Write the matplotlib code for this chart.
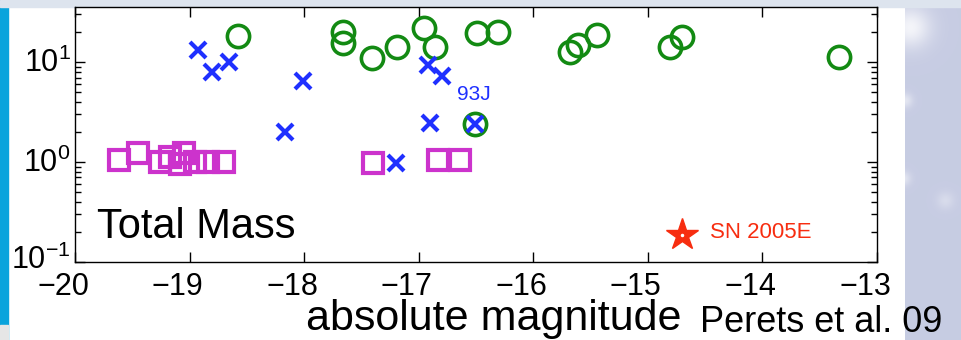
import numpy as np
import matplotlib.pyplot as plt
import matplotlib.transforms as mtransforms
from matplotlib.patches import Rectangle

plt.rcParams['font.family'] = ['Liberation Sans', 'DejaVu Sans']
plt.rcParams['mathtext.fontset'] = 'custom'
plt.rcParams['mathtext.rm'] = 'Liberation Sans'
plt.rcParams['mathtext.it'] = 'Liberation Sans:italic'

# circles (green)
circ_mag = [-18.58, -17.66, -17.66, -17.41, -17.19, -16.95, -16.86, -16.49, -16.31,
            -15.68, -15.61, -15.44, -14.81, -14.70, -13.33, -16.51]
circ_mass = [18.3, 20.1, 15.5, 11.0, 14.2, 22.0, 14.2, 19.6, 20.1,
             12.6, 14.8, 18.7, 14.2, 17.9, 11.2, 2.42]

# crosses (blue)
x_mag = [-18.93, -18.80, -18.66, -18.01, -18.17, -16.92, -16.80, -16.90, -16.51, -17.20]
x_mass = [13.2, 7.9, 10.0, 6.4, 2.0, 9.3, 7.2, 2.48, 2.42, 0.98]

# squares (magenta)
sq_mag = [-19.62, -19.45, -19.26, -19.17, -19.08, -19.05, -18.95, -18.84, -18.70,
          -17.40, -16.83, -16.64]
sq_mass = [1.05, 1.22, 1.0, 1.12, 0.95, 1.22, 1.0, 1.0, 1.0,
           0.98, 1.04, 1.04]

# SN 2005E
star_mag = [-14.70]
star_mass = [0.187]

xticks = [-20, -19, -18, -17, -16, -15, -14, -13]
yticks = [0.1, 1, 10]

fig = plt.figure(figsize=(9.61, 3.40), dpi=100)
fig.patch.set_facecolor('white')

# slide decorations
fig.patches.append(Rectangle((0, 0), 8 / 961, 1, transform=fig.transFigure,
                             color='#0aa4dc', zorder=0))
fig.patches.append(Rectangle((0, 0), 8 / 961, 15 / 340, transform=fig.transFigure,
                             color='#e6e6e6', zorder=0))
fig.patches.append(Rectangle((0, 1 - 7 / 340), 1, 7 / 340, transform=fig.transFigure,
                             color='#dde4ee', zorder=0))

# starry background strip on the right
bg = fig.add_axes([905 / 961, 0, 56 / 961, 1], zorder=0)
yy, xx = np.mgrid[0:340, 0:56]
img = np.zeros((340, 56, 3))
img[..., 0] = 0.78
img[..., 1] = 0.80
img[..., 2] = 0.89
stars = [(27, 5, 14, 0.8), (100, 0, 5, 0.5), (178, -2, 5, 0.5), (200, 40, 6, 0.3)]
for cy, cx, r, a in stars:
    g = a * np.exp(-((yy - cy) ** 2 + (xx - cx) ** 2) / (2 * r ** 2))
    for c in range(3):
        img[..., c] = img[..., c] + (1 - img[..., c]) * g
bg.imshow(img, aspect='auto', interpolation='bilinear')
bg.axis('off')

ax = fig.add_axes([75 / 961, 1 - 262 / 340, 802 / 961, 255 / 340], zorder=1)
ax.set_facecolor('white')

ax.plot(circ_mag, circ_mass, 'o', ls='none', mfc='none', mec='#138a13',
        ms=16, mew=2.6)
ax.plot(x_mag, x_mass, 'x', ls='none', color='#1f30ff', ms=11, mew=3)
ax.plot(sq_mag, sq_mass, 's', ls='none', mfc='none', mec='#cc33cc',
        ms=14, mew=3)
ax.plot(star_mag, star_mass, '*', ls='none', color='#f72d10', ms=24)
ax.plot(star_mag, star_mass, '.', ls='none', color='white', ms=3)

ax.set_yscale('log')
ax.set_xlim(-20, -13)
ax.set_ylim(0.1, 35.5)
ax.set_xticks(xticks)
ax.set_xticklabels(['\u2212%d' % abs(t) for t in xticks])
ax.set_yticks(yticks)
ax.tick_params(which='both', direction='in', top=True, right=True,
               labelsize=22, width=1)
ax.tick_params(axis='x', pad=7)
ax.tick_params(axis='y', pad=3)
ax.tick_params(which='major', length=7)
ax.tick_params(which='minor', length=4)
for s in ax.spines.values():
    s.set_linewidth(1)

# shift x tick labels slightly to the left, y labels up a touch
offset = mtransforms.ScaledTranslation(-12 / 100, 0, fig.dpi_scale_trans)
for lab in ax.get_xticklabels():
    lab.set_transform(lab.get_transform() + offset)
ylabs = ax.get_yticklabels()
for i, lab in enumerate(ylabs):
    dy = 5 if i == 0 else 2
    lab.set_transform(lab.get_transform() +
                      mtransforms.ScaledTranslation(0, dy / 100, fig.dpi_scale_trans))

ax.text(-19.81, 0.1 * 10 ** (24 / 99), 'Total Mass', fontsize=30, va='baseline')
ax.text(-16.67, 10 ** (61 / 99), '93J', fontsize=15, color='#1f30ff', va='baseline')
ax.text(-14.46, 0.1 * 10 ** (24 / 99), 'SN 2005E', fontsize=16, color='#f72d10',
        va='baseline')

fig.text(494 / 961, 1 - 330 / 340, 'absolute magnitude', fontsize=31,
         ha='center', va='baseline')
fig.text(700 / 961, 1 - 332 / 340, 'Perets et al. 09', fontsize=26,
         va='baseline', zorder=5)

fig.savefig('out.png', dpi=100)
